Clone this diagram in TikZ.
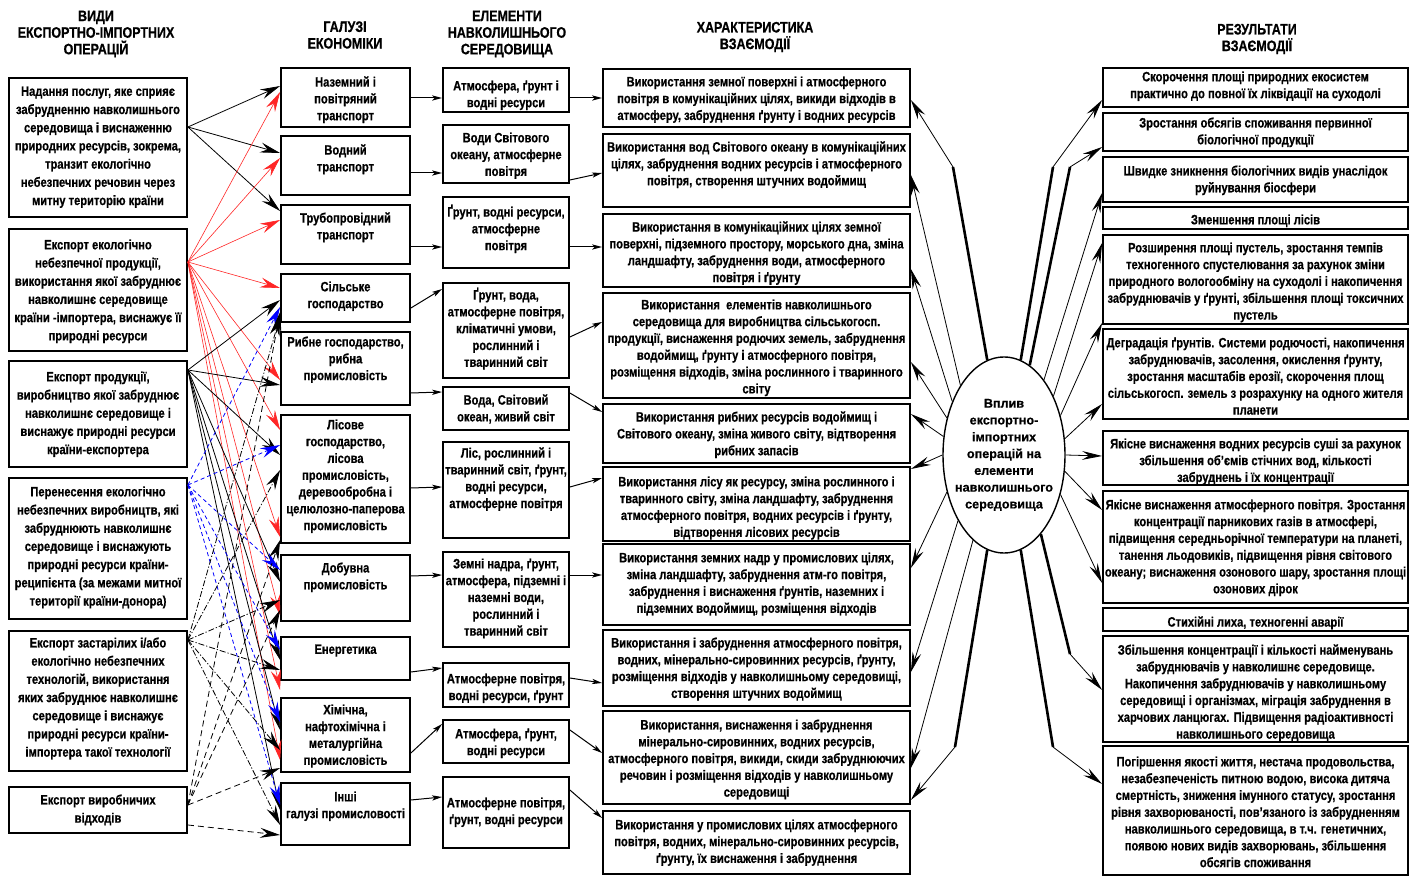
\documentclass[tikz,border=0pt]{standalone}
\usepackage{fontspec}
\setmainfont{Liberation Sans}[FakeStretch=0.82,BoldFont={Liberation Sans Bold},BoldFeatures={FakeBold=0.6}]
\newfontfamily\ovalfont{Liberation Sans}[BoldFont={Liberation Sans Bold},BoldFeatures={FakeBold=0.6}]
\usetikzlibrary{arrows.meta,fit,shapes.geometric}
\tikzset{
	box/.style={
		draw,
		line width=0.9pt,
		inner sep=0pt
	},
	boxtext/.style={
		anchor=north,
		align=center,
		inner sep=0pt,
		yshift=-#1,
		font=\fontsize{6.8}{8.4}\selectfont\bfseries
	},
	boxtext/.default=4pt,
	opstext/.style={
		boxtext=#1,
		font=\fontsize{6.8}{9.1}\selectfont\bfseries
	},
	opstext/.default=4pt,
	head/.style={
		align=center,
		font=\fontsize{7.6}{8.3}\selectfont\bfseries
	},
	link/.style={
		line width=0.5pt,
		-{Stealth[length=5pt,width=2.6pt,inset=1.2pt]}
	},
	tangle/.style={
		line width=0.4pt,
		-{Stealth[length=10pt,width=5pt,inset=3.5pt]}
	},
	redtangle/.style={tangle,red!85!white,line width=0.3pt},
	bluetangle/.style={tangle,blue,dash pattern=on 2pt off 1.5pt},
	dashdottangle/.style={tangle,dash pattern=on 3pt off 1pt on 0.6pt off 1pt},
	dashtangle/.style={tangle,dash pattern=on 3pt off 2pt},
	fan/.style={
		line width=0.4pt,
		-{Stealth[length=10pt,width=4.4pt,inset=3.5pt]}
	},
	fanroot/.style={line width=1.3pt},
}
\begin{document}
\begin{tikzpicture}[x=0.5pt,y=-0.5pt]
	\useasboundingbox (0,0) rectangle (1410,877);
	% column heads
	\node[head] (h-ops) at (96,34) {ВИДИ\\ЕКСПОРТНО-ІМПОРТНИХ\\ОПЕРАЦІЙ};
	\node[head] (h-ind) at (345,35) {ГАЛУЗІ\\ЕКОНОМІКИ};
	\node[head] (h-env) at (507,34) {ЕЛЕМЕНТИ\\НАВКОЛИШНЬОГО\\СЕРЕДОВИЩА};
	\node[head] (h-chr) at (755,37) {ХАРАКТЕРИСТИКА\\ВЗАЄМОДІЇ};
	\node[head] (h-res) at (1257,39) {РЕЗУЛЬТАТИ\\ВЗАЄМОДІЇ};

	% kinds of operations
	\node[box,fit={(9,78)(187,217)},label={[opstext=4.5pt]north:{Надання послуг, яке сприяє\\забрудненню навколишнього\\середовища і виснаженню\\природних ресурсів, зокрема,\\транзит екологічно\\небезпечних речовин через\\митну територію країни}}] (ops1) {};
	\node[box,fit={(9,229)(187,351)},label={[opstext=5.5pt]north:{Експорт екологічно\\небезпечної продукції,\\використання якої забруднює\\навколишнє середовище\\країни -імпортера, виснажує її\\природні ресурси}}] (ops2) {};
	\node[box,fit={(9,361)(187,467)},label={[opstext=5.5pt]north:{Експорт продукції,\\виробництво якої забруднює\\навколишнє середовище і\\виснажує природні ресурси\\країни-експортера}}] (ops3) {};
	\node[box,fit={(9,478)(187,619)},label={[opstext=4.5pt]north:{Перенесення екологічно\\небезпечних виробництв, які\\забруднюють навколишнє\\середовище і виснажують\\природні ресурси країни-\\реципієнта (за межами митної\\території країни-донора)}}] (ops4) {};
	\node[box,fit={(9,631)(187,771)},label={[opstext=3.5pt]north:{Експорт застарілих і/або\\екологічно небезпечних\\технологій, використання\\яких забруднює навколишнє\\середовище і виснажує\\природні ресурси країни-\\імпортера такої технології}}] (ops5) {};
	\node[box,fit={(9,787)(187,833)},label={[opstext]north:{Експорт виробничих\\відходів}}] (ops6) {};

	% branches of economy
	\node[box,fit={(281,68)(410,127)},label={[boxtext=4.5pt]north:{Наземний і\\повітряний\\транспорт}}] (ind1) {};
	\node[box,fit={(281,136)(410,195)},label={[boxtext=4.5pt]north:{Водний\\транспорт}}] (ind2) {};
	\node[box,fit={(281,205)(410,264)},label={[boxtext]north:{Трубопровідний\\транспорт}}] (ind3) {};
	\node[box,fit={(281,274)(410,322)},label={[boxtext]north:{Сільське\\господарство}}] (ind4) {};
	\node[box,fit={(281,332)(410,405)},label={[boxtext=2.5pt]north:{Рибне господарство,\\рибна\\промисловість}}] (ind5) {};
	\node[box,fit={(281,415)(410,543)},label={[boxtext=2.5pt]north:{Лісове\\господарство,\\лісова\\промисловість,\\деревообробна і\\целюлозно-паперова\\промисловість}}] (ind6) {};
	\node[box,fit={(281,555)(410,621)},label={[boxtext]north:{Добувна\\промисловість}}] (ind7) {};
	\node[box,fit={(281,637)(410,680)},label={[boxtext]north:{Енергетика}}] (ind8) {};
	\node[box,fit={(281,698)(410,772)},label={[boxtext=3.5pt]north:{Хімічна,\\нафтохімічна і\\металургійна\\промисловість}}] (ind9) {};
	\node[box,fit={(281,783)(410,845)},label={[boxtext=4.5pt]north:{Інші\\галузі промисловості}}] (ind10) {};

	% elements of environment
	\node[box,fit={(443,68)(569,112)},label={[boxtext=6.5pt]north:{Атмосфера, ґрунт і\\водні ресурси}}] (env1) {};
	\node[box,fit={(443,125)(569,183)},label={[boxtext]north:{Води Світового\\океану, атмосферне\\повітря}}] (env2) {};
	\node[box,fit={(443,197)(569,268)},label={[boxtext]north:{Ґрунт, водні ресурси,\\атмосферне\\повітря}}] (env3) {};
	\node[box,fit={(443,283)(569,378)},label={[boxtext=2.5pt]north:{Ґрунт, вода,\\атмосферне повітря,\\кліматичні умови,\\рослинний і\\тваринний світ}}] (env4) {};
	\node[box,fit={(443,387)(569,430)},label={[boxtext]north:{Вода, Світовий\\океан, живий світ}}] (env5) {};
	\node[box,fit={(443,442)(569,538)},label={[boxtext=3pt]north:{Ліс, рослинний і\\тваринний світ, ґрунт,\\водні ресурси,\\атмосферне повітря}}] (env6) {};
	\node[box,fit={(443,552)(569,647)},label={[boxtext=3.5pt]north:{Земні надра, ґрунт,\\атмосфера, підземні і\\наземні води,\\рослинний і\\тваринний світ}}] (env7) {};
	\node[box,fit={(443,663)(569,707)},label={[boxtext=5.5pt]north:{Атмосферне повітря,\\водні ресурси, ґрунт}}] (env8) {};
	\node[box,fit={(443,720)(569,763)},label={[boxtext=4.5pt]north:{Атмосфера, ґрунт,\\водні ресурси}}] (env9) {};
	\node[box,fit={(443,777)(569,848)},label={[boxtext=10.5pt]north:{Атмосферне повітря,\\ґрунт, водні ресурси}}] (env10) {};

	% characteristics
	\node[box,fit={(603,69)(910,127)},label={[boxtext]north:{Використання земної поверхні і атмосферного\\повітря в комунікаційних цілях, викиди відходів в\\атмосферу, забруднення ґрунту і водних ресурсів}}] (chr1) {};
	\node[box,fit={(603,134)(910,207)},label={[boxtext]north:{Використання вод Світового океану в комунікаційних\\цілях, забруднення водних ресурсів і атмосферного\\повітря, створення штучних водоймищ}}] (chr2) {};
	\node[box,fit={(603,214)(910,287)},label={[boxtext]north:{Використання в комунікаційних цілях земної\\поверхні, підземного простору, морського дна, зміна\\ландшафту, забруднення води, атмосферного\\повітря і ґрунту}}] (chr3) {};
	\node[box,fit={(603,293)(910,398)},label={[boxtext=3.5pt]north:{Використання\ \ елементів навколишнього\\середовища для виробництва сільськогосп.\\продукції, виснаження родючих земель, забруднення\\водоймищ, ґрунту і атмосферного повітря,\\розміщення відходів, зміна рослинного і тваринного\\світу}}] (chr4) {};
	\node[box,fit={(603,404)(910,463)},label={[boxtext]north:{Використання рибних ресурсів водоймищ і\\Світового океану, зміна живого світу, відтворення\\рибних запасів}}] (chr5) {};
	\node[box,fit={(603,467)(910,541)},label={[boxtext=5pt]north:{Використання лісу як ресурсу, зміна рослинного і\\тваринного світу, зміна ландшафту, забруднення\\атмосферного повітря, водних ресурсів і ґрунту,\\відтворення лісових ресурсів}}] (chr6) {};
	\node[box,fit={(603,544)(910,625)},label={[boxtext=4.5pt]north:{Використання земних надр у промислових цілях,\\зміна ландшафту, забруднення атм-го повітря,\\забруднення і виснаження ґрунтів, наземних і\\підземних водоймищ, розміщення відходів}}] (chr7) {};
	\node[box,fit={(603,630)(910,706)},label={[boxtext]north:{Використання і забруднення атмосферного повітря,\\водних, мінерально-сировинних ресурсів, ґрунту,\\розміщення відходів у навколишньому середовищі,\\створення штучних водоймищ}}] (chr8) {};
	\node[box,fit={(603,711)(910,804)},label={[boxtext=4.5pt]north:{Використання, виснаження і забруднення\\мінерально-сировинних, водних ресурсів,\\атмосферного повітря, викиди, скиди забруднюючих\\речовин і розміщення відходів у навколишньому\\середовищі}}] (chr9) {};
	\node[box,fit={(603,811)(910,874)},label={[boxtext=4.5pt]north:{Використання у промислових цілях атмосферного\\повітря, водних, мінерально-сировинних ресурсів,\\ґрунту, їх виснаження і забруднення}}] (chr10) {};

	% results
	\node[box,fit={(1103,68)(1408,107)},label={[boxtext=2pt]north:{Скорочення площі природних екосистем\\практично до повної їх ліквідації на суходолі}}] (res1) {};
	\node[box,fit={(1103,113)(1408,151)},label={[boxtext=2.5pt]north:{Зростання обсягів споживання первинної\\біологічної продукції}}] (res2) {};
	\node[box,fit={(1103,157)(1408,202)},label={[boxtext=4.5pt]north:{Швидке зникнення біологічних видів унаслідок\\руйнування біосфери}}] (res3) {};
	\node[box,fit={(1103,207)(1408,229)},label={[boxtext]north:{Зменшення площі лісів}}] (res4) {};
	\node[box,fit={(1103,235)(1408,324)},label={[boxtext]north:{Розширення площі пустель, зростання темпів\\техногенного спустелювання за рахунок зміни\\природного вологообміну на суходолі і накопичення\\забруднювачів у ґрунті, збільшення площі токсичних\\пустель}}] (res5) {};
	\node[box,fit={(1103,329)(1408,419)},label={[boxtext=4.5pt]north:{Деградація ґрунтів. Системи родючості, накопичення\\забруднювачів, засолення, окислення ґрунту,\\зростання масштабів ерозії, скорочення площ\\сільськогосп. земель з розрахунку на одного жителя\\планети}}] (res6) {};
	\node[box,fit={(1103,431)(1408,485)},label={[boxtext=4pt]north:{Якісне виснаження водних ресурсів суші за рахунок\\збільшення об'ємів стічних вод, кількості\\забруднень і їх концентрації}}] (res7) {};
	\node[box,fit={(1103,491)(1408,603)},label={[boxtext=4.5pt]north:{Якісне виснаження атмосферного повітря. Зростання\\концентрації парникових газів в атмосфері,\\підвищення середньорічної температури на планеті,\\танення льодовиків, підвищення рівня світового\\океану; виснаження озонового шару, зростання площі\\озонових дірок}}] (res8) {};
	\node[box,fit={(1103,608)(1408,631)},label={[boxtext=4.5pt]north:{Стихійні лиха, техногенні аварії}}] (res9) {};
	\node[box,fit={(1103,636)(1408,742)},label={[boxtext=4.5pt]north:{Збільшення концентрації і кількості найменувань\\забруднювачів у навколишнє середовище.\\Накопичення забруднювачів у навколишньому\\середовищі і організмах, міграція забруднення в\\харчових ланцюгах. Підвищення радіоактивності\\навколишнього середовища}}] (res10) {};
	\node[box,fit={(1103,746)(1408,875)},label={[boxtext=5.5pt]north:{Погіршення якості життя, нестача продовольства,\\незабезпеченість питною водою, висока дитяча\\смертність, зниження імунного статусу, зростання\\рівня захворюваності, пов'язаного із забрудненням\\навколишнього середовища, в т.ч. генетичних,\\появою нових видів захворювань, збільшення\\обсягів споживання}}] (res11) {};

	% central oval
	\node[draw,ellipse,line width=0.7pt,minimum width=61pt,minimum height=98pt,inner sep=0pt] (impact) at (1004,455) {};
	\node[align=center,inner sep=0pt,font=\ovalfont\fontsize{6.3}{8.4}\selectfont\bfseries] (impact-text) at (impact.center) {Вплив\\експортно-\\імпортних\\операцій на\\елементи\\навколишнього\\середовища};

	% operations -> branches
	\draw[tangle] (ops1.east |- 0,127) -- (ind1.west |- 0,86);
	\draw[tangle] (ops1.east |- 0,127) -- (ind2.west |- 0,153);
	\draw[tangle] (ops1.east |- 0,127) -- (ind3.west |- 0,211);

	\draw[redtangle] (ops2.east |- 0,262) -- (ind1.west |- 0,92);
	\draw[redtangle] (ops2.east |- 0,262) -- (ind2.west |- 0,158);
	\draw[redtangle] (ops2.east |- 0,262) -- (ind3.west |- 0,220);
	\draw[redtangle] (ops2.east |- 0,262) -- (ind4.west |- 0,288);
	\draw[redtangle] (ops2.east |- 0,262) -- (ind5.west |- 0,380);
	\draw[redtangle] (ops2.east |- 0,262) -- (ind6.west |- 0,430);
	\draw[redtangle] (ops2.east |- 0,262) -- (ind6.west |- 0,537);
	\draw[redtangle] (ops2.east |- 0,262) -- (ind7.west |- 0,615);
	\draw[redtangle] (ops2.east |- 0,262) -- (ind8.west |- 0,690);
	\draw[redtangle] (ops2.east |- 0,262) -- (ind9.west |- 0,760);

	\draw[tangle] (ops3.east |- 0,370) -- (ind4.west |- 0,300);
	\draw[tangle] (ops3.east |- 0,370) -- (ind5.west |- 0,385);
	\draw[tangle] (ops3.east |- 0,370) -- (ind6.west |- 0,455);
	\draw[tangle] (ops3.east |- 0,370) -- (ind7.west |- 0,582);
	\draw[tangle] (ops3.east |- 0,370) -- (ind8.west |- 0,660);
	\draw[tangle] (ops3.east |- 0,370) -- (ind9.west |- 0,730);
	\draw[tangle] (ops3.east |- 0,370) -- (ind10.west |- 0,810);

	\draw[bluetangle] (ops4.east |- 0,485) -- (ind4.west |- 0,307);
	\draw[bluetangle] (ops4.east |- 0,485) -- (ind6.west |- 0,445);
	\draw[bluetangle] (ops4.east |- 0,485) -- (ind7.west |- 0,570);
	\draw[bluetangle] (ops4.east |- 0,485) -- (ind8.west |- 0,650);
	\draw[bluetangle] (ops4.east |- 0,485) -- (ind9.west |- 0,722);
	\draw[bluetangle] (ops4.east |- 0,485) -- (ind10.west |- 0,805);

	\draw[dashdottangle] (ops5.east |- 0,640) -- (ind4.west |- 0,316);
	\draw[dashdottangle] (ops5.east |- 0,640) -- (ind6.west |- 0,470);
	\draw[dashdottangle] (ops5.east |- 0,640) -- (ind7.west |- 0,600);
	\draw[dashdottangle] (ops5.east |- 0,640) -- (ind8.west |- 0,670);
	\draw[dashdottangle] (ops5.east |- 0,640) -- (ind9.west |- 0,750);
	\draw[dashdottangle] (ops5.east |- 0,640) -- (ind10.west |- 0,825);

	\draw[dashtangle] (ops6.east |- 0,805) -- (ind4.west |- 0,312);
	\draw[dashtangle] (ops6.east |- 0,805) -- (ind6.west |- 0,540);
	\draw[dashtangle] (ops6.east |- 0,805) -- (ind7.west |- 0,610);
	\draw[dashtangle] (ops6.east |- 0,805) -- (ind9.west |- 0,768);
	\draw[dashtangle] (ops6.east |- 0,825) -- (ind10.west |- 0,835);

	% branches -> elements
	\draw[link] (ind1.east |- 0,98) -- (env1.west |- 0,98);
	\draw[link] (ind2.east |- 0,173) -- (env2.west |- 0,173);
	\draw[link] (ind3.east |- 0,247) -- (env3.west |- 0,247);
	\draw[link] (ind4.east |- 0,308) -- (env4.west |- 0,289);
	\draw[link] (ind5.east |- 0,393) -- (env5.west |- 0,392);
	\draw[link] (ind6.east |- 0,488) -- (env6.west |- 0,487);
	\draw[link] (ind7.east |- 0,576) -- (env7.west |- 0,575);
	\draw[link] (ind8.east |- 0,672) -- (env8.west |- 0,668);
	\draw[link] (ind9.east |- 0,753) -- (env9.west |- 0,724);
	\draw[link] (ind10.east |- 0,800) -- (env10.west |- 0,797);

	% elements -> characteristics
	\draw[link] (env1.east |- 0,98) -- (chr1.west |- 0,98);
	\draw[link] (env2.east |- 0,180) -- (chr2.west |- 0,173);
	\draw[link] (env3.east |- 0,247) -- (chr3.west |- 0,247);
	\draw[link] (env4.east |- 0,337) -- (chr4.west |- 0,322);
	\draw[link] (env5.east |- 0,393) -- (chr5.west |- 0,412);
	\draw[link] (env6.east |- 0,487) -- (chr6.west |- 0,478);
	\draw[link] (env7.east |- 0,575) -- (chr7.west |- 0,575);
	\draw[link] (env8.east |- 0,678) -- (chr8.west |- 0,683);
	\draw[link] (env9.east |- 0,730) -- (chr9.west |- 0,753);
	\draw[link] (env10.east |- 0,790) -- (chr10.west |- 0,818);

	% oval -> characteristics
	\coordinate (lk1) at (953,167);
	\draw[fanroot] (impact.100) -- (lk1);
	\draw[fan] (lk1) -- (chr1.east |- 0,100);
	\draw[fan] (impact.122) -- (chr2.east |- 0,175);
	\draw[fan] (impact.134) -- (chr3.east |- 0,269);
	\draw[fan] (impact.147) -- (chr4.east |- 0,362);
	\draw[fan] (impact.163) -- (chr5.east |- 0,414);
	\draw[fan] (impact.180) -- (chr6.east |- 0,469);
	\draw[fan] (impact.213) -- (chr7.east |- 0,568);
	\draw[fan] (impact.235) -- (chr8.east |- 0,672);
	\draw[fan] (impact.250) -- (chr9.east |- 0,768);
	\coordinate (lk10) at (955,747);
	\draw[fanroot] (impact.260) -- (lk10);
	\draw[fan] (lk10) -- (chr10.east |- 0,800);

	% oval -> results
	\coordinate (rk1) at (1053,167);
	\draw[fanroot] (impact.80) -- (rk1);
	\draw[fan] (rk1) -- (res1.west |- 0,100);
	\coordinate (rk2) at (1070,167);
	\draw[fanroot] (impact.74) -- (rk2);
	\draw[fan] (rk2) -- (res2.west |- 0,147);
	\draw[fan] (impact.62) -- (res3.west |- 0,193);
	\draw[fan] (impact.50) -- (res5.west |- 0,243);
	\draw[fan] (impact.35) -- (res5.west |- 0,323);
	\draw[fan] (impact.15) -- (res6.west |- 0,404);
	\draw[fan] (impact.0) -- (res7.west |- 0,456);
	\draw[fan] (impact.-15) -- (res8.west |- 0,510);
	\draw[fan] (impact.-35) -- (res8.west |- 0,583);
	\coordinate (rk10) at (1070,654);
	\draw[fanroot] (impact.-65) -- (rk10);
	\draw[fan] (rk10) -- (res10.west |- 0,690);
	\coordinate (rk11) at (1053,747);
	\draw[fanroot] (impact.-80) -- (rk11);
	\draw[fan] (rk11) -- (res11.west |- 0,784);
\end{tikzpicture}
\end{document}
